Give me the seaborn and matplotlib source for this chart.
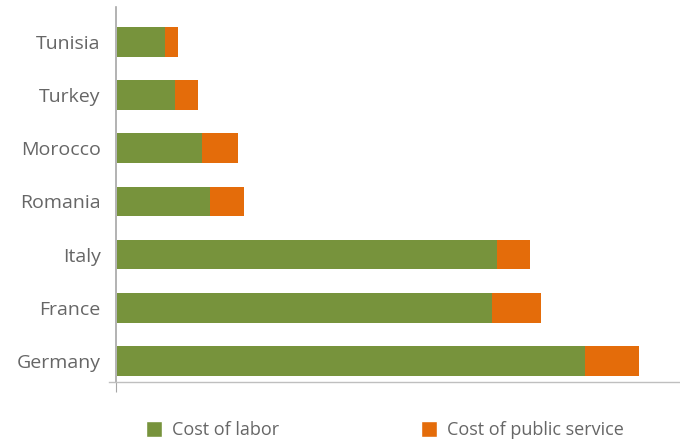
import matplotlib.pyplot as plt
import seaborn as sns
import pandas as pd
from matplotlib.patches import Patch

countries = ["Tunisia", "Turkey", "Morocco", "Romania", "Italy", "France", "Germany"]
labor = [4.8, 5.8, 8.5, 9.3, 38.0, 37.5, 46.8]
public_service = [1.3, 2.3, 3.6, 3.4, 3.3, 4.9, 5.4]

green = "#77933C"
orange = "#E46C0A"
grey_text = "#666666"

df = pd.DataFrame({"country": countries, "labor": labor, "public": public_service})
df["total"] = df["labor"] + df["public"]

sns.set_style("white")
plt.rcParams["font.family"] = ["Open Sans", "DejaVu Sans"]

fig = plt.figure(figsize=(6.8, 4.41), dpi=100)
ax = fig.add_axes([0.1603, 0.1338, 0.8397, 0.8502])

# total first (orange), labor drawn on top (green)
sns.barplot(data=df, y="country", x="total", color=orange, orient="h",
            width=0.56, saturation=1, linewidth=0, ax=ax)
sns.barplot(data=df, y="country", x="labor", color=green, orient="h",
            width=0.56, saturation=1, linewidth=0, ax=ax)

ax.set_xlim(-0.8, 56.3)
ax.set_ylim(6.4, -0.66)
ax.set_xlabel("")
ax.set_ylabel("")

for s in ["top", "right"]:
    ax.spines[s].set_visible(False)
ax.spines["left"].set_position(("data", -0.1))
ax.spines["left"].set_color("#A6A6A6")
ax.spines["bottom"].set_color("#BFBFBF")
ax.spines["left"].set_linewidth(1.2)
ax.spines["bottom"].set_linewidth(1.0)

ax.set_xticks([-0.1])
ax.set_xticklabels([])
ax.tick_params(axis="x", length=7, color="#A6A6A6", direction="out", bottom=True)
ax.tick_params(axis="y", length=0, labelsize=14, labelcolor=grey_text, pad=11)

handles = [Patch(facecolor=green, label="Cost of labor"),
           Patch(facecolor=orange, label="Cost of public service")]
leg = fig.legend(handles=handles, loc="center", bbox_to_anchor=(0.566, 0.025),
                 ncol=2, frameon=False, fontsize=13, handlelength=0.88,
                 handleheight=1.0, handletextpad=0.55, columnspacing=7.9)
for t in leg.get_texts():
    t.set_color(grey_text)

fig.savefig("out.png", dpi=100)
